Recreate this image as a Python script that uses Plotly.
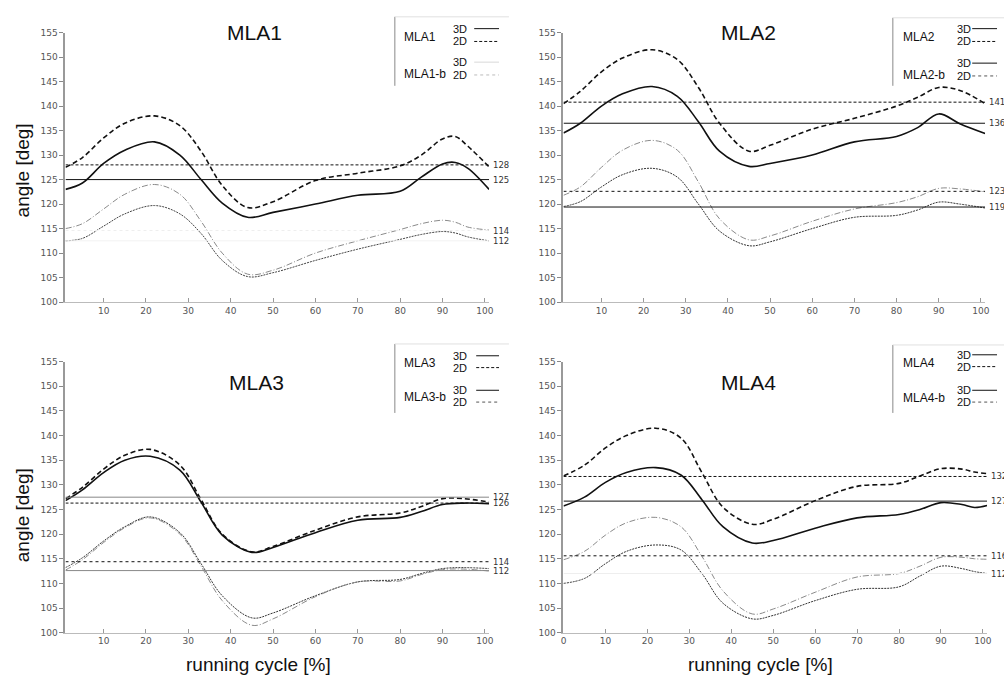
import plotly.graph_objects as go

W, H = 1004, 682

# ---------------- data ----------------
X_MLA1 = [1, 5, 10, 15, 22, 28, 33, 38, 44, 50, 60, 70, 80, 85, 90, 93, 96, 101]
MLA1_3D = [123.0, 124.3, 128.3, 131.0, 132.7, 130.0, 125.0, 120.2, 117.3, 118.3, 120.0, 121.8, 122.6, 125.5, 128.2, 128.5, 127.3, 123.0]
MLA1_2D = [127.5, 129.5, 133.5, 136.5, 138.0, 136.0, 130.8, 123.8, 119.3, 120.5, 124.8, 126.3, 127.8, 130.0, 133.3, 133.8, 131.8, 127.6]
MLA1B_U = [115.0, 116.0, 119.0, 122.0, 124.0, 122.0, 116.5, 110.0, 105.7, 106.5, 110.0, 112.5, 114.8, 116.0, 116.7, 116.3, 115.3, 114.7]
MLA1B_L = [112.5, 113.0, 115.5, 118.0, 119.7, 118.0, 114.0, 108.5, 105.2, 106.0, 108.5, 110.8, 112.8, 113.8, 114.4, 114.1, 113.3, 112.5]

X_MLA2 = [1, 5, 10, 15, 22, 28, 33, 38, 45, 50, 60, 70, 80, 85, 90, 95, 101]
MLA2_3D = [134.5, 136.5, 140.0, 142.5, 144.0, 142.0, 136.8, 130.8, 127.7, 128.3, 130.0, 132.7, 133.8, 135.6, 138.4, 136.4, 134.4]
MLA2_2D = [140.5, 143.0, 147.0, 149.8, 151.5, 149.5, 143.8, 136.5, 130.8, 132.0, 135.3, 137.5, 140.0, 141.8, 143.8, 143.2, 140.5]
MLA2B_U = [121.8, 123.5, 127.5, 131.0, 133.0, 131.0, 124.5, 117.0, 112.7, 113.5, 116.5, 119.0, 120.3, 121.5, 123.2, 123.1, 122.5]
MLA2B_L = [119.5, 120.5, 123.5, 126.0, 127.3, 125.5, 120.0, 114.5, 111.5, 112.3, 115.0, 117.3, 117.7, 118.8, 120.4, 120.0, 119.2]

X_MLA3 = [1, 5, 10, 15, 21, 28, 33, 38, 45, 50, 60, 70, 80, 85, 90, 95, 101]
MLA3_3D = [126.8, 129.0, 132.5, 135.0, 135.8, 133.0, 126.5, 119.8, 116.3, 117.3, 120.3, 122.8, 123.4, 124.6, 126.0, 126.3, 126.2]
MLA3_2D = [127.2, 129.5, 133.2, 136.0, 137.2, 134.0, 127.0, 120.0, 116.4, 117.5, 120.8, 123.5, 124.3, 125.6, 127.2, 127.2, 126.5]
MLA3B_U = [113.2, 115.2, 118.6, 121.5, 123.5, 120.3, 114.0, 107.5, 103.0, 104.0, 107.5, 110.3, 110.8, 112.0, 113.0, 113.2, 113.0]
MLA3B_L = [112.7, 114.8, 118.3, 121.3, 123.3, 120.0, 113.5, 106.5, 101.5, 102.8, 107.3, 110.3, 110.5, 111.8, 112.8, 112.9, 112.5]

X_MLA4 = [0, 5, 10, 15, 22, 28, 33, 38, 45, 50, 60, 70, 80, 85, 90, 95, 98, 101]
MLA4_3D = [125.7, 127.5, 130.5, 132.5, 133.5, 132.0, 127.0, 121.5, 118.2, 118.7, 121.2, 123.3, 124.0, 125.0, 126.4, 126.0, 125.4, 125.8]
MLA4_2D = [131.8, 134.0, 137.5, 140.0, 141.5, 139.5, 132.5, 125.5, 122.0, 123.0, 126.8, 129.7, 130.3, 131.8, 133.3, 133.2, 132.6, 132.3]
MLA4B_U = [114.8, 116.5, 119.8, 122.3, 123.4, 121.5, 115.5, 108.5, 103.8, 104.8, 108.2, 111.3, 112.0, 113.5, 115.3, 115.3, 115.0, 114.9]
MLA4B_L = [110.0, 111.0, 114.0, 116.5, 117.8, 116.8, 112.0, 106.0, 102.8, 103.5, 106.5, 108.8, 109.3, 111.5, 113.5, 113.0, 112.4, 112.0]

# mean lines: [3D, 2D, b-3D, b-2D]
MEANS = {
    "MLA1": [125.0, 128.0, 112.5, 114.6],
    "MLA2": [136.5, 140.8, 119.4, 122.6],
    "MLA3": [127.5, 126.3, 112.6, 114.4],
    "MLA4": [126.7, 131.7, 112.0, 115.6],
}
MEAN_LABELS = {
    "MLA1": ["125", "128", "112", "114"],
    "MLA2": ["136", "141", "119", "123"],
    "MLA3": ["127", "126", "112", "114"],
    "MLA4": ["127", "132", "112", "116"],
}
Y_TICKS = [100, 105, 110, 115, 120, 125, 130, 135, 140, 145, 150, 155]
X_TICKS_A = [10, 20, 30, 40, 50, 60, 70, 80, 90, 100]
X_TICKS_B = [0, 10, 20, 30, 40, 50, 60, 70, 80, 90, 100]

# ---------------- layout helpers ----------------
def fx(p):
    return p / W

def fy(p):
    return 1 - p / H

PANELS = [
    dict(name="MLA1", xs=X_MLA1, s3=MLA1_3D, s2=MLA1_2D, bu=MLA1B_U, bl=MLA1B_L,
         px=(63, 490), py=(28, 301.5), xr=[1, 101], xt=X_TICKS_A, n="", tc=(254, 28)),
    dict(name="MLA2", xs=X_MLA2, s3=MLA2_3D, s2=MLA2_2D, bu=MLA2B_U, bl=MLA2B_L,
         px=(565, 990), py=(28, 301.5), xr=[1, 101], xt=X_TICKS_A, n="2", tc=(751, 28)),
    dict(name="MLA3", xs=X_MLA3, s3=MLA3_3D, s2=MLA3_2D, bu=MLA3B_U, bl=MLA3B_L,
         px=(63, 490), py=(362, 637), xr=[1, 101], xt=X_TICKS_A, n="3", tc=(256, 383)),
    dict(name="MLA4", xs=X_MLA4, s3=MLA4_3D, s2=MLA4_2D, bu=MLA4B_U, bl=MLA4B_L,
         px=(565, 992), py=(362, 637), xr=[0, 101], xt=X_TICKS_B, n="4", tc=(751, 383)),
]

# styles of mean lines per panel: (color, dash) for [3D, 2D, b3D, b2D]
MEAN_STYLE = {
    "MLA1": [("#111", "solid"), ("#111", "3px,2px"), ("#f2f2f2", "solid"), ("#eeeeee", "dot")],
    "MLA2": [("#111", "solid"), ("#111", "3px,2px"), ("#111", "solid"), ("#111", "dot")],
    "MLA3": [("#888", "solid"), ("#111", "3px,2px"), ("#888", "solid"), ("#111", "dot")],
    "MLA4": [("#111", "solid"), ("#111", "3px,2px"), ("#eeeeee", "solid"), ("#111", "dot")],
}
# b-curve styles: (upper, lower)
B_STYLE = {
    "MLA1": [("#8a8a8a", "6px,2px,1px,2px"), ("#444", "2px,1px")],
    "MLA2": [("#8a8a8a", "6px,2px,1px,2px"), ("#333", "2px,1px")],
    "MLA3": [("#333", "2px,1px"), ("#8a8a8a", "6px,2px,1px,2px")],
    "MLA4": [("#8a8a8a", "6px,2px,1px,2px"), ("#333", "2px,1px")],
}

fig = go.Figure()
annotations = []
shapes = []
TICKFONT = dict(family="DejaVu Sans", size=9, color="#555")

for P in PANELS:
    n = P["n"]
    xa, ya = "x" + n, "y" + n
    name = P["name"]
    # curves
    fig.add_trace(go.Scatter(x=P["xs"], y=P["bu"], mode="lines", xaxis=xa, yaxis=ya,
                             line=dict(color=B_STYLE[name][0][0], width=1, dash=B_STYLE[name][0][1],
                                       shape="spline", smoothing=1.0), showlegend=False, hoverinfo="skip"))
    fig.add_trace(go.Scatter(x=P["xs"], y=P["bl"], mode="lines", xaxis=xa, yaxis=ya,
                             line=dict(color=B_STYLE[name][1][0], width=1, dash=B_STYLE[name][1][1],
                                       shape="spline", smoothing=1.0), showlegend=False, hoverinfo="skip"))
    fig.add_trace(go.Scatter(x=P["xs"], y=P["s2"], mode="lines", xaxis=xa, yaxis=ya,
                             line=dict(color="#111", width=1.6, dash="5px,3px", shape="spline", smoothing=1.0),
                             showlegend=False, hoverinfo="skip"))
    fig.add_trace(go.Scatter(x=P["xs"], y=P["s3"], mode="lines", xaxis=xa, yaxis=ya,
                             line=dict(color="#111", width=1.6, shape="spline", smoothing=1.0),
                             showlegend=False, hoverinfo="skip"))
    # mean lines
    for m, (col, dash), lab in zip(MEANS[name], MEAN_STYLE[name], MEAN_LABELS[name]):
        fig.add_trace(go.Scatter(x=P["xr"], y=[m, m], mode="lines", xaxis=xa, yaxis=ya,
                                 line=dict(color=col, width=1, dash=dash),
                                 showlegend=False, hoverinfo="skip"))
        annotations.append(dict(x=fx(P["px"][1] + 2), y=m, xref="paper", yref=ya,
                                text=lab, showarrow=False, xanchor="left", yanchor="middle",
                                font=dict(family="DejaVu Sans", size=8.5, color="#333")))
    # axes
    fig.layout["xaxis" + n] = dict(domain=[fx(P["px"][0]), fx(P["px"][1])], range=P["xr"], anchor=ya,
                                   tickvals=P["xt"], ticks="inside", ticklen=4, tickcolor="#999",
                                   showline=True, linecolor="#bbb", linewidth=1, showgrid=False,
                                   zeroline=False, tickfont=TICKFONT)
    fig.layout["yaxis" + n] = dict(domain=[fy(P["py"][1]), fy(P["py"][0])], range=[100, 155], anchor=xa,
                                   tickvals=Y_TICKS, ticks="outside", ticklen=4, tickcolor="#888",
                                   showline=True, linecolor="#999", linewidth=2, showgrid=False,
                                   zeroline=False, tickfont=TICKFONT)
    # panel title
    annotations.append(dict(x=fx(P["tc"][0]), y=fy(P["tc"][1]), xref="paper", yref="paper", text=name,
                            showarrow=False, xanchor="center", yanchor="middle",
                            font=dict(family="Liberation Sans", size=21, color="#111")))

# legends (drawn as boxes of text and sample lines)
LEG = [
    dict(name="MLA1", vx=395, tx=402, dx=452, l0=475, l1=500, top=12, bot=82,
         rows=(32, 24, 37, 70, 58, 71), light=True),
    dict(name="MLA2", vx=897, tx=905, dx=960, l0=977, l1=1002, top=13, bot=82,
         rows=(32, 24, 37, 71, 59, 72), light=False),
    dict(name="MLA3", vx=395, tx=402, dx=452, l0=477, l1=500, top=344, bot=414,
         rows=(363, 356, 368, 398, 391, 403), light=False),
    dict(name="MLA4", vx=897, tx=905, dx=960, l0=977, l1=1002, top=345, bot=414,
         rows=(363, 355, 367, 399, 391, 403), light=False),
]
for L in LEG:
    shapes.append(dict(type="line", xref="paper", yref="paper", x0=fx(L["vx"]), x1=fx(L["vx"]),
                       y0=fy(L["top"]), y1=fy(L["bot"]), line=dict(color="#888", width=1)))
    shapes.append(dict(type="line", xref="paper", yref="paper", x0=fx(L["vx"]), x1=fx(L["vx"] + 115),
                       y0=fy(L["top"]), y1=fy(L["top"]), line=dict(color="#e0e0e0", width=1)))
    hy, y3, y2, bhy, by3, by2 = L["rows"]
    for txt, yy, xx, sz in [(L["name"], hy, L["tx"], 12), ("3D", y3, L["dx"], 11), ("2D", y2, L["dx"], 11),
                            (L["name"] + "-b", bhy, L["tx"], 12), ("3D", by3, L["dx"], 11), ("2D", by2, L["dx"], 11)]:
        annotations.append(dict(x=fx(xx), y=fy(yy), xref="paper", yref="paper", text=txt, showarrow=False,
                                xanchor="left", yanchor="middle",
                                font=dict(family="Liberation Sans", size=sz, color="#111")))
    bcol3 = "#d8d8d8" if L["light"] else "#111"
    bcol2 = "#bbbbbb" if L["light"] else "#555"
    for yy, col, dash in [(y3, "#111", "solid"), (y2, "#111", "3px,2px"), (by3, bcol3, "solid"), (by2, bcol2, "dot")]:
        shapes.append(dict(type="line", xref="paper", yref="paper", x0=fx(L["l0"]), x1=fx(L["l1"]),
                           y0=fy(yy), y1=fy(yy), line=dict(color=col, width=1, dash=dash)))

# axis titles
for yc in (168, 518):
    annotations.append(dict(x=fx(20), y=fy(yc), xref="paper", yref="paper", text="angle [deg]",
                            showarrow=False, textangle=-90, xanchor="center", yanchor="middle",
                            font=dict(family="Liberation Sans", size=19, color="#111")))
for xc in (258, 764):
    annotations.append(dict(x=fx(xc), y=fy(669), xref="paper", yref="paper", text="running cycle [%]",
                            showarrow=False, xanchor="center", yanchor="middle",
                            font=dict(family="Liberation Sans", size=19, color="#111")))

fig.update_layout(width=W, height=H, margin=dict(l=0, r=0, t=0, b=0), paper_bgcolor="white",
                  plot_bgcolor="white", showlegend=False, annotations=annotations, shapes=shapes)
fig.write_html("out.html")
